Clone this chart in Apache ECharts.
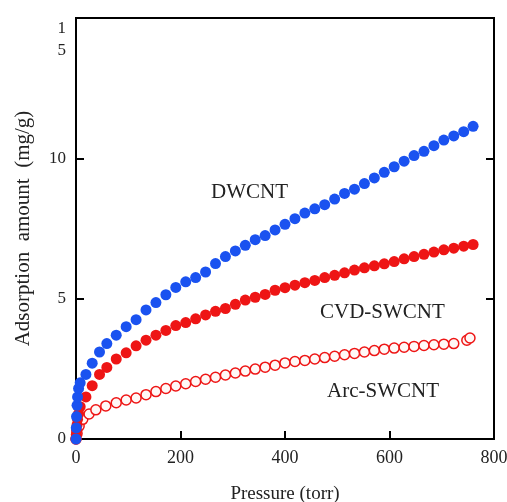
<!DOCTYPE html>
<html>
<head>
<meta charset="utf-8">
<script src="https://cdn.jsdelivr.net/npm/echarts@6/dist/echarts.min.js"></script>
<style>
  html, body { margin: 0; padding: 0; background: #fff; }
  #chart { width: 507px; height: 502px; }
</style>
</head>
<body>
<div id="chart"></div>
<script>
// Adsorption isotherms: pressure (torr) vs adsorbed amount (mg/g)
const pressure = [0, 0.5, 1, 2, 3, 5, 8, 19, 31, 45, 59, 77, 96, 115, 134, 153, 172, 191, 210, 229, 248, 267, 286, 305, 324, 343, 362, 381, 400, 419, 438, 457, 476, 495, 514, 533, 552, 571, 590, 609, 628, 647, 666, 685, 704, 723, 742, 760];

const dwcnt = [0, 0.4, 0.8, 1.2, 1.5, 1.8, 2.0, 2.3, 2.7, 3.1, 3.4, 3.7, 4.0, 4.25, 4.6, 4.86, 5.14, 5.4, 5.6, 5.75, 5.95, 6.25, 6.5, 6.7, 6.9, 7.1, 7.25, 7.45, 7.65, 7.85, 8.05, 8.2, 8.35, 8.55, 8.75, 8.9, 9.1, 9.3, 9.5, 9.7, 9.9, 10.1, 10.25, 10.45, 10.65, 10.8, 10.95, 11.14];

const cvdSwcnt = [0, 0.15, 0.3, 0.5, 0.7, 0.9, 1.15, 1.5, 1.9, 2.3, 2.55, 2.85, 3.07, 3.32, 3.52, 3.7, 3.87, 4.04, 4.15, 4.28, 4.42, 4.55, 4.65, 4.8, 4.95, 5.05, 5.15, 5.3, 5.39, 5.48, 5.57, 5.65, 5.75, 5.83, 5.92, 6.02, 6.1, 6.17, 6.24, 6.32, 6.42, 6.5, 6.58, 6.66, 6.74, 6.8, 6.87, 6.93];

const arcPressure = [0, 2, 6, 13, 25, 38, 57, 77, 96, 115, 134, 153, 172, 191, 210, 229, 248, 267, 286, 305, 324, 343, 362, 381, 400, 419, 438, 457, 476, 495, 514, 533, 552, 571, 590, 609, 628, 647, 666, 685, 704, 723, 748, 754];

const arcSwcnt = [0, 0.2, 0.46, 0.7, 0.89, 1.04, 1.18, 1.29, 1.39, 1.46, 1.58, 1.69, 1.8, 1.89, 1.97, 2.05, 2.13, 2.2, 2.28, 2.35, 2.42, 2.49, 2.56, 2.63, 2.71, 2.76, 2.8, 2.85, 2.9, 2.95, 3.0, 3.05, 3.1, 3.15, 3.2, 3.24, 3.27, 3.3, 3.33, 3.36, 3.38, 3.4, 3.52, 3.6];

const xTicks = [0, 200, 400, 600, 800];
const yTicks = [0, 5, 10, 15];

const FONT = '"Liberation Serif", "DejaVu Serif", serif';
const BLUE = '#1a52f0';
const RED = '#ee1515';

const pairs = (xs, ys) => xs.map((x, i) => [x, ys[i]]);

const chart = echarts.init(document.getElementById('chart'), null, { renderer: 'canvas' });

chart.setOption({
  animation: false,
  backgroundColor: '#ffffff',
  grid: {
    left: 76, right: 13, top: 18, bottom: 63,
    containLabel: false,
    outerBoundsMode: 'none',
    show: true, borderColor: '#000', borderWidth: 2
  },
  xAxis: {
    type: 'value',
    min: xTicks[0], max: xTicks[xTicks.length - 1], interval: 200,
    name: 'Pressure (torr)',
    nameLocation: 'middle', nameGap: 46,
    nameTextStyle: { fontFamily: FONT, fontSize: 19, color: '#222' },
    axisLine: { show: true, lineStyle: { color: '#000', width: 2 } },
    axisTick: { show: true, inside: true, length: 8, lineStyle: { color: '#000', width: 2 } },
    axisLabel: { fontFamily: FONT, fontSize: 18, color: '#222', margin: 10, showMaxLabel: true, showMinLabel: true },
    splitLine: { show: false }
  },
  yAxis: [{
    type: 'value',
    min: yTicks[0], max: yTicks[yTicks.length - 1], interval: 5,
    name: 'Adsorption  amount  (mg/g)',
    nameLocation: 'middle', nameGap: 42,
    nameTextStyle: { fontFamily: FONT, fontSize: 21, color: '#222' },
    axisLine: { show: true, lineStyle: { color: '#000', width: 2 } },
    axisTick: { show: true, inside: true, length: 8, lineStyle: { color: '#000', width: 2 } },
    axisLabel: {
      fontFamily: FONT, fontSize: 17, color: '#222', margin: 10, lineHeight: 22,
      showMaxLabel: true, showMinLabel: true,
      formatter: v => v === 15 ? '\n\n1\n5' : String(v)
    },
    splitLine: { show: false }
  }, {
    type: 'value', position: 'right',
    min: yTicks[0], max: yTicks[yTicks.length - 1], interval: 5,
    axisLine: { show: true, lineStyle: { color: '#000', width: 2 } },
    axisTick: { show: true, inside: true, length: 8, lineStyle: { color: '#000', width: 2 } },
    axisLabel: { show: false },
    splitLine: { show: false }
  }],
  series: [{
    name: 'Arc-SWCNT', type: 'scatter', clip: false,
    symbol: 'circle', symbolSize: 10,
    itemStyle: { color: '#fff8f6', borderColor: RED, borderWidth: 1.5, opacity: 1 },
    data: pairs(arcPressure, arcSwcnt)
  }, {
    name: 'CVD-SWCNT', type: 'scatter', clip: false,
    symbol: 'circle', symbolSize: 11,
    itemStyle: { color: RED, opacity: 1 },
    data: pairs(pressure, cvdSwcnt)
  }, {
    name: 'DWCNT', type: 'scatter', clip: false,
    symbol: 'circle', symbolSize: 11,
    itemStyle: { color: BLUE, opacity: 1 },
    data: pairs(pressure, dwcnt)
  }],
  graphic: [
    { type: 'text', left: 211, top: 182, style: { text: 'DWCNT', font: '21px ' + FONT, fill: '#222' } },
    { type: 'text', left: 320, top: 302, style: { text: 'CVD-SWCNT', font: '21px ' + FONT, fill: '#222' } },
    { type: 'text', left: 327, top: 381, style: { text: 'Arc-SWCNT', font: '21px ' + FONT, fill: '#222' } }
  ]
});
</script>
</body>
</html>
